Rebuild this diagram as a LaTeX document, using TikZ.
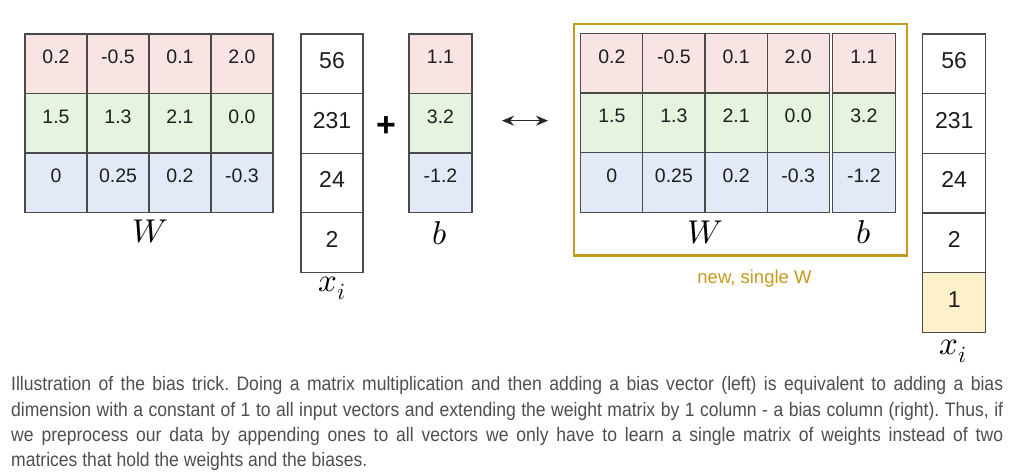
\documentclass[tikz,border=0pt]{standalone}
\usepackage{unicode-math}
\setmainfont{Liberation Sans}
\setmathfont{Latin Modern Math}
\newfontfamily\capfont[FakeStretch=0.9]{Liberation Sans}
\usetikzlibrary{arrows.meta}
\definecolor{pinkc}{HTML}{F9E4E4}
\definecolor{greenc}{HTML}{E6F4DF}
\definecolor{bluec}{HTML}{E3EAF7}
\definecolor{yellowc}{HTML}{FDF0CA}
\definecolor{goldc}{HTML}{C49A1C}
\definecolor{gridc}{HTML}{4A4A4A}
\definecolor{numc}{HTML}{1E1E1E}
\definecolor{capc}{HTML}{4E4E4E}
\tikzset{
  cell/.style={draw=gridc, line width=1.1pt},
  num/.style={anchor=base, inner sep=0pt, text=numc, font=\fontsize{19.5}{22}\selectfont},
  bignum/.style={anchor=base, inner sep=0pt, text=numc, font=\fontsize{23}{26}\selectfont},
  mathlbl/.style={anchor=base, inner sep=0pt, font=\fontsize{33}{35}\selectfont},
  capline/.style={anchor=base west, inner sep=0pt, text=capc, font=\capfont\fontsize{19.5}{25}\selectfont},
  goldbox/.style={draw=goldc, line width=2.2pt},
  dblarrow/.style={{Stealth[length=12pt,width=10pt]}-{Stealth[length=12pt,width=10pt]}, line width=1.6pt, draw=black!85}
}
\begin{document}
\frenchspacing
\begin{tikzpicture}[x=1pt,y=-1pt]
\useasboundingbox (0,0) rectangle (1011,476);

% ---------- left W ----------
\foreach \r/\fc/\vals in {0/pinkc/{0.2,-0.5,0.1,2.0},1/greenc/{1.5,1.3,2.1,0.0},2/bluec/{0,0.25,0.2,-0.3}}{
  \foreach \v [count=\c from 0] in \vals {
    \draw[cell, fill=\fc] (25+62*\c, 34+59.5*\r) rectangle ++(62,59.5);
    \node[num] (wl-\r-\c) at (25+62*\c+31, 34+59.5*\r+29.8) {\v};
  }
}
\node[mathlbl] (wlab) at (150,242.7) {$W$};

% ---------- left x_i ----------
\foreach \v [count=\r from 0] in {56,231,24,2}{
  \draw[cell, fill=white] (301, 34+59.6*\r) rectangle ++(62,59.6);
  \node[bignum] (xl-\r) at (332, 34+59.6*\r+34.5) {\v};
}
\node[mathlbl] (xlab) at (332,291.7) {$x_i$};

% plus
\node[inner sep=0pt, font=\fontsize{34}{36}\selectfont\bfseries] (plus) at (386,127) {+};

% ---------- left b ----------
\foreach \v/\fc [count=\r from 0] in {1.1/pinkc,3.2/greenc,-1.2/bluec}{
  \draw[cell, fill=\fc] (409, 34+59.5*\r) rectangle ++(63,59.5);
  \node[num] (bl-\r) at (440.5, 34+59.5*\r+29.8) {\v};
}
\node[mathlbl] (blab) at (440,244) {$b$};

% ---------- arrow ----------
\coordinate (arrL) at (502,120.7);
\coordinate (arrR) at (548,120.7);
\draw[dblarrow] (arrL) -- (arrR);

% ---------- right: new W ----------
\node[goldbox, minimum width=333pt, minimum height=231.6pt, anchor=north west, inner sep=0pt] (gold) at (572.7,22.7) {};
\foreach \r/\fc/\vals in {0/pinkc/{0.2,-0.5,0.1,2.0},1/greenc/{1.5,1.3,2.1,0.0},2/bluec/{0,0.25,0.2,-0.3}}{
  \foreach \v [count=\c from 0] in \vals {
    \draw[cell, fill=\fc] (580.7+62.15*\c, 33.3+59.67*\r) rectangle ++(62.15,59.67);
    \node[num] (wr-\r-\c) at (580.7+62.15*\c+31.1, 33.3+59.67*\r+29.8) {\v};
  }
}
\foreach \v/\fc [count=\r from 0] in {1.1/pinkc,3.2/greenc,-1.2/bluec}{
  \draw[cell, fill=\fc] (832.3, 33.3+59.67*\r) rectangle ++(63,59.67);
  \node[num] (br-\r) at (863.8, 33.3+59.67*\r+29.8) {\v};
}
\node[mathlbl] (wrlab) at (705,243.3) {$W$};
\node[mathlbl] (brlab) at (864,243.3) {$b$};
\node[anchor=base, inner sep=0pt, text=goldc, font=\fontsize{18.5}{20}\selectfont] (newlab) at (754.5,283.3) {new, single W};

% ---------- right x_i ----------
\foreach \v/\fc [count=\r from 0] in {56/white,231/white,24/white,2/white,1/yellowc}{
  \draw[cell, fill=\fc] (922.7, 34+59.66*\r) rectangle ++(63,59.66);
  \node[bignum] (xr-\r) at (954.2, 34+59.66*\r+34.5) {\v};
}
\node[mathlbl] (xrlab) at (953,354) {$x_i$};

% ---------- caption ----------
\node[capline] (cap1) at (11,390.7) {\makebox[992pt][s]{Illustration of the bias trick. Doing a matrix multiplication and then adding a bias vector (left) is equivalent to adding a bias}};
\node[capline] (cap2) at (11,416) {\makebox[992pt][s]{dimension with a constant of 1 to all input vectors and extending the weight matrix by 1 column - a bias column (right). Thus, if}};
\node[capline] (cap3) at (11,441.3) {\makebox[992pt][s]{we preprocess our data by appending ones to all vectors we only have to learn a single matrix of weights instead of two}};
\node[capline] (cap4) at (11,466.6) {matrices that hold the weights and the biases.};
\end{tikzpicture}
\end{document}
